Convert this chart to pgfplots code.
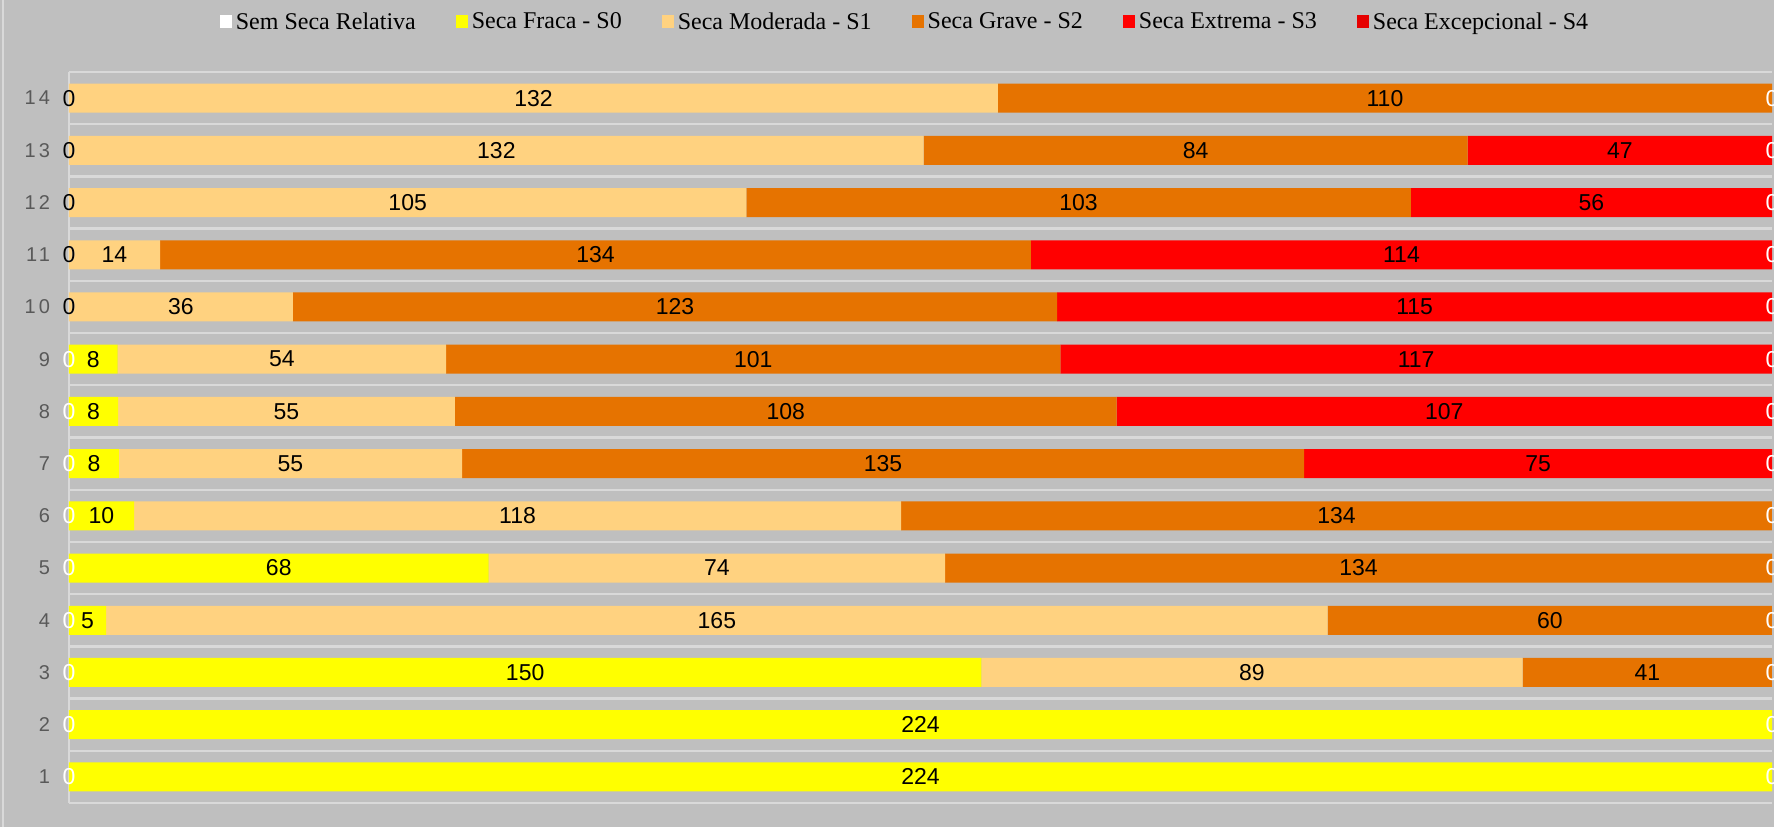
\documentclass[border=0pt]{standalone}
\usepackage{fontspec}
\setmainfont{Liberation Sans}
\newfontfamily\legfont{Liberation Serif}
\usepackage{pgfplots}
\usepackage{pgfplotstable}
\pgfplotsset{compat=1.18}

\definecolor{bgc}{HTML}{BFBFBF}
\definecolor{gridc}{HTML}{D9D9D9}
\definecolor{tickc}{HTML}{595959}
\definecolor{cRel}{HTML}{FFFFFF}
\definecolor{cS0}{HTML}{FFFF00}
\definecolor{cS1}{HTML}{FFD280}
\definecolor{cS2}{HTML}{E67300}
\definecolor{cS3}{HTML}{FF0000}
\definecolor{cS4}{HTML}{E60000}

% classes per row (counts)
\pgfplotstableread{
row rel s0  s1  s2  s3  s4 tot
1   0   224 0   0   0   0  224
2   0   224 0   0   0   0  224
3   0   150 89  41  0   0  280
4   0   5   165 60  0   0  230
5   0   68  74  134 0   0  276
6   0   10  118 134 0   0  262
7   0   8   55  135 75  0  273
8   0   8   55  108 107 0  278
9   0   8   54  101 117 0  280
10  0   0   36  123 115 0  274
11  0   0   14  134 114 0  262
12  0   0   105 103 56  0  264
13  0   0   132 84  47  0  263
14  0   0   132 110 0   0  242
}\seca

\pgfplotsset{
  nz/.style={nodes near coords={\pgfmathfloatifflags{\pgfplotspointmeta}{0}{}{\pgfmathprintnumber{\pgfplotspointmeta}}}},
  onlyzero/.style={nodes near coords={\pgfmathfloatifflags{\pgfplotspointmeta}{0}{0}{}}},
  frame/.style={width=851.5pt, height=365.5pt, scale only axis,
    xmin=0, xmax=100, ymin=0.5, ymax=14.5},
}

\begin{document}
\begin{tikzpicture}
\fill[bgc] (-34.5pt,-12pt) rectangle (852.5pt,401.5pt);
\draw[gridc, line width=1pt] (-33pt,-12pt) -- (-33pt,401.5pt);
\begin{axis}[
  frame,
  xbar stacked, bar width=14.5pt,
  ytick={1,...,14},
  yticklabel={\addfontfeatures{LetterSpace=15}\pgfmathprintnumber{\tick}},
  minor ytick={0.5,1.5,...,14.5}, yminorgrids,
  xtick={0}, xticklabels={}, xmajorgrids,
  grid style={gridc, line width=1.2pt},
  minor grid style={gridc, line width=1.2pt},
  axis line style={draw=none},
  major tick length=0pt, minor tick length=0pt,
  /pgf/number format/assume math mode=true,
  yticklabel style={font=\fontsize{10}{11}\selectfont, text=tickc, xshift=-6pt},
  point meta=explicit,
  nodes near coords style={font=\fontsize{11.5}{12}\selectfont, text=black},
  legend style={at={(0.4915,1.068)}, anchor=center, draw=none, fill=none,
    legend columns=6, font=\legfont\fontsize{12}{14}\selectfont,
    /tikz/every even column/.append style={column sep=18pt}},
  legend image code/.code={\fill[#1, draw=none] (0pt,-3pt) rectangle (6pt,3.5pt);},
]
\addlegendimage{fill=cRel}
\addlegendimage{fill=cS0}
\addlegendimage{fill=cS1}
\addlegendimage{fill=cS2}
\addlegendimage{fill=cS3}
\addlegendimage{fill=cS4}

\addplot[fill=cRel, draw=none]
  table[x expr=\thisrow{rel}/\thisrow{tot}*100, y=row, meta=rel]{\seca};
\addplot[fill=cS0, draw=none, nz]
  table[x expr=\thisrow{s0}/\thisrow{tot}*100, y=row, meta=s0]{\seca};
\addplot[fill=cS1, draw=none, nz]
  table[x expr=\thisrow{s1}/\thisrow{tot}*100, y=row, meta=s1]{\seca};
\addplot[fill=cS2, draw=none, nz]
  table[x expr=\thisrow{s2}/\thisrow{tot}*100, y=row, meta=s2]{\seca};
\addplot[fill=cS3, draw=none, nz]
  table[x expr=\thisrow{s3}/\thisrow{tot}*100, y=row, meta=s3]{\seca};
\addplot[fill=cS4, draw=none]
  table[x expr=\thisrow{s4}/\thisrow{tot}*100, y=row, meta=s4]{\seca};

\legend{Sem Seca Relativa, Seca Fraca - S0, Seca Moderada - S1, Seca Grave - S2, Seca Extrema - S3, Seca Excepcional - S4}
\end{axis}
% zero labels at the bar ends
\begin{axis}[
  frame, hide axis, clip=false,
  point meta=explicit,
  /pgf/number format/assume math mode=true,
  nodes near coords style={font=\fontsize{11.5}{12}\selectfont, anchor=center},
]
\addplot[draw=none, mark=none, nodes near coords, every node near coord/.append style={text=white}]
  table[x expr=\thisrow{rel}/\thisrow{tot}*100, y=row, meta=rel]{\seca};
\addplot[draw=none, mark=none, onlyzero, every node near coord/.append style={text=black}]
  table[x expr=\thisrow{rel}/\thisrow{tot}*100, y=row, meta=s0]{\seca};
\addplot[draw=none, mark=none, nodes near coords, every node near coord/.append style={text=white}]
  table[x expr=(\thisrow{rel}+\thisrow{s0}+\thisrow{s1}+\thisrow{s2}+\thisrow{s3}+\thisrow{s4})/\thisrow{tot}*100, y=row, meta=s4]{\seca};
\end{axis}
\pgfresetboundingbox
\useasboundingbox (-34.5pt,-12pt) rectangle (852.5pt,401.5pt);
\end{tikzpicture}
\end{document}
